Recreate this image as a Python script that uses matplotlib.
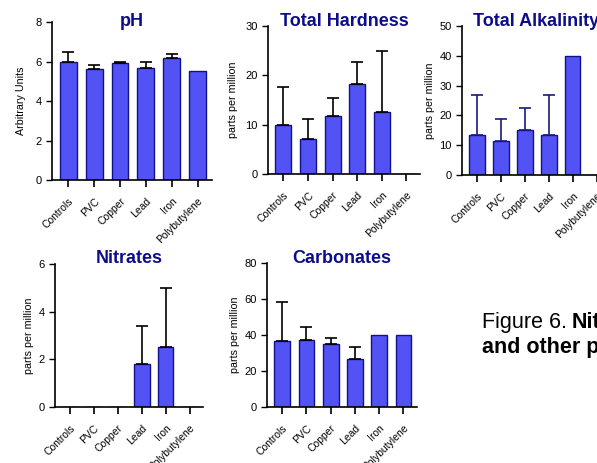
import matplotlib
matplotlib.use("Agg")
import matplotlib.pyplot as plt
import numpy as np

plt.rcParams['font.family'] = ['Liberation Sans', 'DejaVu Sans']

categories = ["Controls", "PVC", "Copper", "Lead", "Iron", "Polybutylene"]

ph_vals = [6.0, 5.6, 5.9, 5.65, 6.2, 5.5]
ph_err = [0.5, 0.2, 0.1, 0.35, 0.2, 0.0]

hard_vals = [10.0, 7.1, 11.8, 18.2, 12.5, 0.0]
hard_err = [7.7, 4.1, 3.7, 4.5, 12.5, 0.0]

alk_vals = [13.3, 11.4, 15.0, 13.3, 40.0, 0.0]
alk_err = [13.4, 7.4, 7.5, 13.4, 0.0, 0.0]

nit_vals = [0.0, 0.0, 0.0, 1.8, 2.5, 0.0]
nit_err = [0.0, 0.0, 0.0, 1.6, 2.5, 0.0]

carb_vals = [36.7, 37.3, 35.0, 26.7, 40.0, 40.0]
carb_err = [21.9, 7.4, 3.3, 6.8, 0.0, 0.0]

W, H = 597, 463
fig = plt.figure(figsize=(W / 100, H / 100), dpi=100)

def ax_px(left, right, top, bottom):
    return fig.add_axes([left / W, 1 - bottom / H, (right - left) / W, (bottom - top) / H])

BAR = "#5353f5"
EDGE = "#10108a"
TITLE = "#0d0d8c"

panels = [
    ("pH", ph_vals, ph_err, (52, 212, 22, 180), 8, 2, "Arbitrary Units", "black", -3.0, 7),
    ("Total Hardness", hard_vals, hard_err, (268, 420, 26, 174), 30, 10, "parts per million", "black", 0.0, 5),
    ("Total Alkalinity", alk_vals, alk_err, (462, 610, 26, 175), 50, 10, "parts per million", "#1a1a7a", 0.0, 3),
    ("Nitrates", nit_vals, nit_err, (55, 203, 264, 407), 6, 2, "parts per million", "black", 0.5, 3),
    ("Carbonates", carb_vals, carb_err, (267, 417, 263, 407), 80, 20, "parts per million", "black", 0.0, 3),
]

for title, vals, errs, box, ymax, ystep, ylab, ecol, tpad, lpad in panels:
    ax = ax_px(*box)
    x = np.arange(len(categories))
    ax.bar(x, vals, width=0.65, color=BAR, edgecolor=EDGE, linewidth=1.0, zorder=2)
    xe = [xi for xi, e in zip(x, errs) if e > 0]
    ve = [v for v, e in zip(vals, errs) if e > 0]
    ee = [e for e in errs if e > 0]
    if xe:
        ax.errorbar(xe, ve, yerr=[np.zeros(len(ee)), ee], fmt="none", ecolor=ecol,
                    elinewidth=1.2, capsize=4, capthick=1.2, zorder=3)
    ax.set_xlim(-0.63, 5.56)
    ax.set_ylim(0, ymax)
    ax.set_yticks(np.arange(0, ymax + ystep / 2, ystep))
    ax.set_xticks(x)
    ax.set_xticklabels(categories, rotation=45, ha="right", rotation_mode="anchor", fontsize=7.5)
    ax.tick_params(axis="y", labelsize=8, length=4, width=1)
    ax.tick_params(axis="x", length=5, width=1.2, pad=6.5)
    for s in ["top", "right"]:
        ax.spines[s].set_visible(False)
    for s in ["left", "bottom"]:
        ax.spines[s].set_linewidth(1.2)
    ax.set_ylabel(ylab, fontsize=7.7, labelpad=lpad)
    ax.set_title(title, fontsize=13, fontweight="bold", color=TITLE, pad=tpad, y=1.0)

t1 = fig.text(482 / W, 1 - 328 / H, "Figure 6.", fontsize=15.5, ha="left", va="baseline")
fig.canvas.draw()
bb = t1.get_window_extent(renderer=fig.canvas.get_renderer())
fig.text((bb.x1 + 5) / W, 1 - 328 / H, "Nitrates", fontsize=15.5, fontweight="bold",
         ha="left", va="baseline")
fig.text(482 / W, 1 - 353 / H, "and other parameters", fontsize=15.5, fontweight="bold",
         ha="left", va="baseline")

fig.savefig("out.png", dpi=100)
